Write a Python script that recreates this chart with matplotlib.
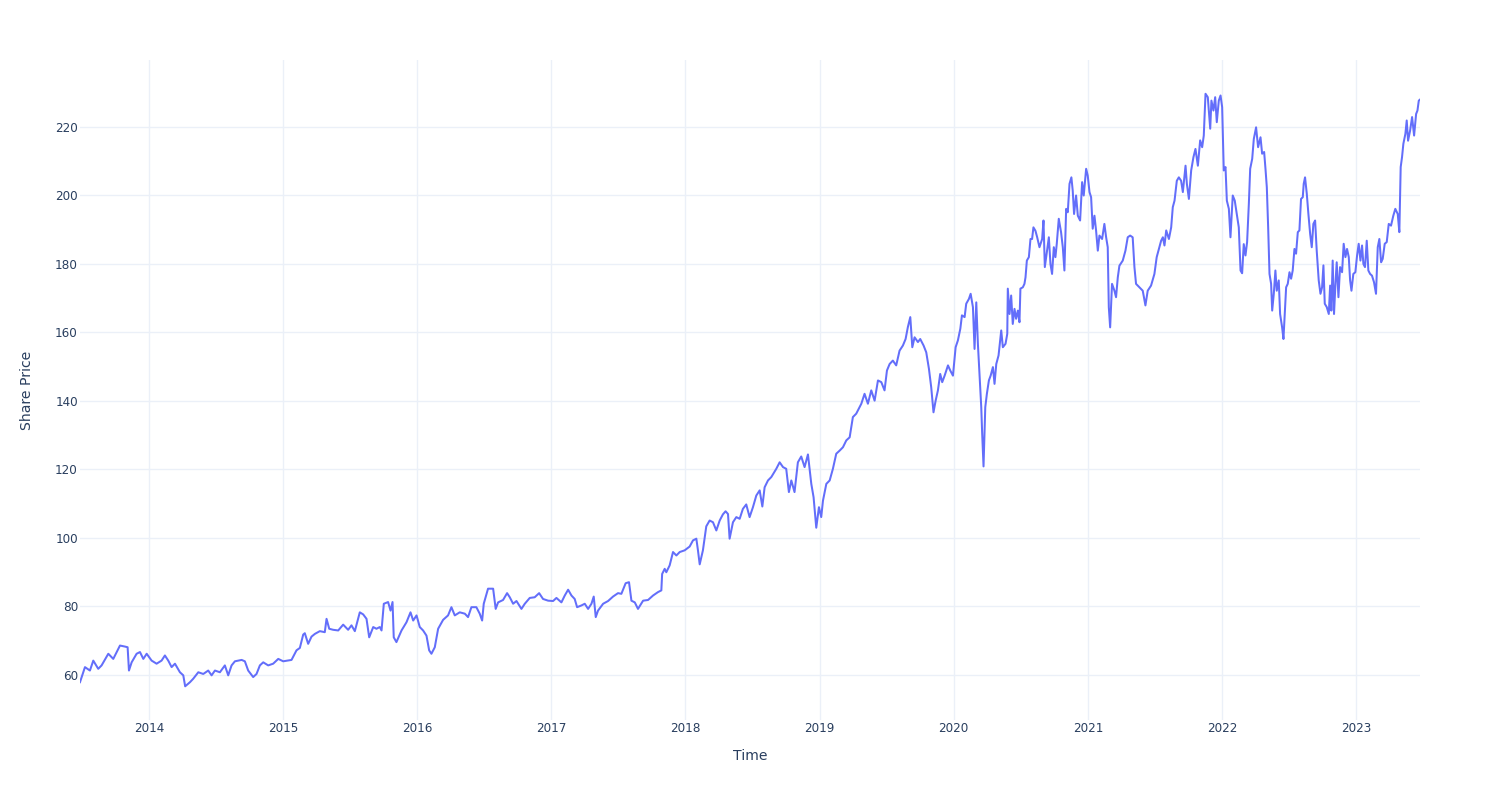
import numpy as np
import pandas as pd
import matplotlib
matplotlib.use("Agg")
import matplotlib.pyplot as plt
import matplotlib.dates as mdates

# ---- data (decimal year, share price) ----
years = [
    2013.486, 2013.523, 2013.560, 2013.585, 2013.622, 2013.647, 2013.697, 2013.734, 2013.784, 2013.821,
    2013.841, 2013.851, 2013.871, 2013.908, 2013.933, 2013.958, 2013.983, 2014.020, 2014.057, 2014.094,
    2014.119, 2014.144, 2014.169, 2014.194, 2014.231, 2014.256, 2014.270, 2014.306, 2014.330, 2014.368,
    2014.405, 2014.442, 2014.467, 2014.492, 2014.529, 2014.566, 2014.591, 2014.616, 2014.641, 2014.691,
    2014.715, 2014.740, 2014.777, 2014.802, 2014.827, 2014.852, 2014.889, 2014.926, 2014.964, 2015.001,
    2015.063, 2015.100, 2015.125, 2015.150, 2015.162, 2015.187, 2015.212, 2015.237, 2015.274, 2015.311,
    2015.324, 2015.344, 2015.373, 2015.411, 2015.448, 2015.485, 2015.510, 2015.535, 2015.572, 2015.597,
    2015.622, 2015.642, 2015.672, 2015.696, 2015.721, 2015.734, 2015.751, 2015.783, 2015.801, 2015.816,
    2015.825, 2015.845, 2015.883, 2015.920, 2015.950, 2015.970, 2015.995, 2016.019, 2016.044, 2016.069,
    2016.089, 2016.106, 2016.131, 2016.156, 2016.193, 2016.230, 2016.255, 2016.280, 2016.317, 2016.355,
    2016.379, 2016.404, 2016.441, 2016.466, 2016.484, 2016.496, 2016.528, 2016.566, 2016.585,
    2016.603, 2016.640, 2016.670, 2016.690, 2016.715, 2016.740, 2016.777, 2016.802, 2016.839, 2016.876,
    2016.909, 2016.938, 2016.976, 2017.013, 2017.038, 2017.075, 2017.100, 2017.125, 2017.150, 2017.174,
    2017.192, 2017.224, 2017.249, 2017.274, 2017.299, 2017.316, 2017.331, 2017.348, 2017.386, 2017.423,
    2017.460, 2017.497, 2017.522, 2017.554, 2017.579, 2017.597, 2017.622, 2017.646, 2017.684, 2017.721,
    2017.758, 2017.795, 2017.820, 2017.826, 2017.845, 2017.857,
    2017.882, 2017.907, 2017.932, 2017.957, 2017.994, 2018.031, 2018.056, 2018.081, 2018.093, 2018.106,
    2018.130, 2018.155, 2018.180, 2018.205, 2018.230, 2018.255, 2018.279, 2018.299, 2018.317, 2018.329,
    2018.354, 2018.379, 2018.404, 2018.428, 2018.453, 2018.478, 2018.503, 2018.528, 2018.553, 2018.573,
    2018.590, 2018.615, 2018.640, 2018.677, 2018.702, 2018.727, 2018.751, 2018.771, 2018.789, 2018.813,
    2018.838, 2018.863, 2018.888, 2018.913, 2018.938, 2018.955, 2018.975,
    2018.995, 2019.012, 2019.025, 2019.050, 2019.075, 2019.099, 2019.124, 2019.149, 2019.174, 2019.199,
    2019.224, 2019.248, 2019.273, 2019.311, 2019.335, 2019.360, 2019.385, 2019.410, 2019.435, 2019.460,
    2019.484, 2019.502, 2019.522, 2019.546, 2019.571, 2019.596, 2019.621, 2019.641, 2019.658, 2019.676,
    2019.691, 2019.708, 2019.733, 2019.750, 2019.775, 2019.795, 2019.815, 2019.832, 2019.849,
    2019.865, 2019.882, 2019.899, 2019.914, 2019.932, 2019.957, 2019.974, 2019.994, 2020.014, 2020.031,
    2020.049, 2020.061, 2020.081, 2020.093, 2020.113, 2020.126, 2020.143, 2020.155, 2020.168, 2020.180,
    2020.193, 2020.205, 2020.212, 2020.222, 2020.235, 2020.247, 2020.262, 2020.275, 2020.292, 2020.304,
    2020.317, 2020.334, 2020.354, 2020.366, 2020.386, 2020.399,
    2020.403, 2020.416, 2020.428, 2020.440, 2020.453, 2020.465, 2020.478, 2020.490, 2020.497, 2020.515,
    2020.527, 2020.535, 2020.545, 2020.560, 2020.572, 2020.584, 2020.594, 2020.609, 2020.622,
    2020.639, 2020.659, 2020.669, 2020.679, 2020.694, 2020.709, 2020.721, 2020.733, 2020.746, 2020.758,
    2020.768, 2020.783, 2020.800, 2020.813, 2020.825, 2020.838, 2020.850, 2020.863, 2020.877, 2020.887,
    2020.897, 2020.912, 2020.925, 2020.942, 2020.957, 2020.969, 2020.987, 2020.999, 2021.012, 2021.024,
    2021.036, 2021.049, 2021.061, 2021.074, 2021.086, 2021.106, 2021.123, 2021.136, 2021.148, 2021.156,
    2021.166, 2021.180, 2021.198, 2021.210, 2021.223, 2021.235, 2021.260, 2021.280, 2021.297, 2021.315,
    2021.334, 2021.347, 2021.359, 2021.384, 2021.409, 2021.429, 2021.446, 2021.471, 2021.496, 2021.513,
    2021.546, 2021.559, 2021.571, 2021.584, 2021.604, 2021.621, 2021.633, 2021.646, 2021.663, 2021.678,
    2021.695, 2021.708, 2021.728, 2021.738, 2021.753, 2021.770, 2021.787, 2021.802, 2021.820, 2021.837,
    2021.852, 2021.864, 2021.877, 2021.894, 2021.912, 2021.921, 2021.936, 2021.949, 2021.961, 2021.976,
    2021.989, 2022.001, 2022.013, 2022.026, 2022.036, 2022.051, 2022.063, 2022.080, 2022.095, 2022.110,
    2022.125, 2022.138, 2022.150, 2022.162, 2022.175, 2022.187, 2022.200, 2022.210, 2022.225, 2022.237,
    2022.254, 2022.269, 2022.287, 2022.299, 2022.314, 2022.324, 2022.334, 2022.344, 2022.354, 2022.366,
    2022.374, 2022.386, 2022.398, 2022.408, 2022.423, 2022.433, 2022.448, 2022.458,
    2022.478, 2022.490, 2022.503, 2022.515, 2022.527, 2022.540, 2022.552, 2022.565, 2022.577, 2022.589,
    2022.602, 2022.609, 2022.619, 2022.632, 2022.644, 2022.657, 2022.669, 2022.681, 2022.694, 2022.706,
    2022.721, 2022.734, 2022.746, 2022.756, 2022.766, 2022.781, 2022.796, 2022.806, 2022.815, 2022.825,
    2022.835, 2022.845, 2022.855, 2022.868, 2022.880, 2022.895, 2022.907, 2022.920, 2022.932, 2022.945,
    2022.955, 2022.965, 2022.979, 2022.994, 2023.007, 2023.019, 2023.032, 2023.044, 2023.054, 2023.066,
    2023.079, 2023.091, 2023.104, 2023.118, 2023.133, 2023.148, 2023.161, 2023.173, 2023.186, 2023.198,
    2023.213, 2023.228, 2023.243, 2023.260, 2023.277, 2023.292, 2023.310, 2023.322, 2023.332, 2023.342,
    2023.352, 2023.367, 2023.377, 2023.387, 2023.402, 2023.417, 2023.432, 2023.447, 2023.457, 2023.467,
    2023.476,
]

prices = [
    57.9, 62.3, 61.3, 64.2, 61.8, 62.8, 66.2, 64.7, 68.6, 68.3,
    68.1, 61.3, 63.7, 66.2, 66.7, 64.7, 66.2, 64.2, 63.3, 64.2,
    65.7, 64.2, 62.3, 63.3, 60.8, 59.9, 56.7, 57.9, 58.9, 60.8,
    60.3, 61.3, 59.9, 61.3, 60.8, 62.8, 59.9, 62.8, 64.0, 64.4,
    64.0, 61.3, 59.4, 60.3, 62.8, 63.7, 62.8, 63.3, 64.7, 64.0,
    64.4, 67.2, 67.9, 71.8, 72.2, 69.1, 71.2, 72.0, 72.8, 72.5,
    76.4, 73.5, 73.2, 73.0, 74.7, 73.2, 74.5, 72.8, 78.3, 77.7,
    76.4, 71.0, 74.0, 73.5, 74.0, 73.0, 80.8, 81.3, 78.8, 81.3,
    71.0, 69.6, 73.0, 75.4, 78.3, 75.9, 77.4, 74.0, 73.0, 71.5,
    67.2, 66.2, 68.1, 73.5, 76.1, 77.4, 79.8, 77.4, 78.3, 77.9,
    76.9, 79.8, 79.8, 77.9, 75.9, 80.8, 85.2, 85.2, 79.3,
    81.2, 81.9, 83.9, 82.7, 80.8, 81.6, 79.3, 80.8, 82.5, 82.7,
    83.9, 82.2, 81.7, 81.6, 82.5, 81.2, 83.2, 84.9, 83.2, 82.2,
    79.8, 80.3, 80.8, 79.3, 80.8, 82.9, 76.9, 78.8, 80.8, 81.6,
    82.9, 83.9, 83.7, 86.8, 87.1, 81.7, 81.2, 79.3, 81.7, 81.9,
    83.2, 84.2, 84.7, 89.5, 91.0, 90.0,
    92.0, 95.9, 94.9, 95.9, 96.4, 97.5, 99.3, 99.8, 96.4, 92.3,
    96.4, 103.4, 105.1, 104.6, 102.2, 105.1, 106.9, 107.8, 107.0, 99.8,
    104.6, 106.1, 105.6, 108.5, 109.8, 106.1, 109.0, 112.4, 113.9, 109.2,
    114.8, 116.8, 117.8, 120.2, 122.1, 120.7, 120.2, 113.4, 116.8, 113.4,
    122.1, 123.8, 120.7, 124.4, 115.8, 111.9, 103.0,
    109.0, 106.1, 110.9, 115.8, 116.8, 120.2, 124.6, 125.5, 126.5, 128.5,
    129.4, 135.3, 136.3, 139.2, 142.1, 139.2, 143.1, 140.1, 146.0, 145.5,
    143.1, 148.9, 150.8, 151.8, 150.4, 154.7, 156.2, 158.1, 161.6, 164.5,
    155.7, 158.6, 157.2, 158.1, 156.2, 154.2, 149.4, 144.0, 136.7,
    140.1, 143.1, 147.9, 145.5, 147.4, 150.4, 148.9, 147.4, 155.7, 157.7,
    161.1, 165.0, 164.5, 168.4, 169.8, 171.3, 167.4, 155.2, 168.8, 156.7,
    147.0, 138.2, 130.4, 120.9, 138.2, 142.1, 146.0, 147.4, 149.9, 145.0,
    150.8, 153.3, 160.6, 155.7, 156.7, 159.6,
    172.8, 165.4, 170.8, 162.5, 166.9, 164.0, 166.4, 163.0, 172.8, 173.2,
    174.2, 176.1, 181.0, 182.0, 187.3, 187.3, 190.7, 189.7, 187.8,
    184.9, 187.3, 192.7, 179.1, 183.5, 187.8, 180.0, 177.1, 184.9, 182.0,
    185.9, 193.2, 189.3, 184.9, 178.1, 196.1, 195.1, 203.4, 205.3, 201.4,
    194.6, 200.0, 194.1, 192.7, 203.9, 200.0, 207.8, 205.8, 201.0, 199.5,
    190.3, 194.1, 189.8, 183.9, 188.3, 187.3, 191.7, 187.8, 184.9, 167.4,
    161.5, 174.2, 172.2, 170.3, 176.1, 179.5, 181.0, 183.9, 187.8, 188.3,
    187.8, 179.1, 174.2, 173.2, 172.2, 167.9, 172.2, 173.7, 177.1, 182.0,
    186.8, 187.8, 185.4, 189.8, 187.3, 190.7, 196.6, 198.5, 204.3, 205.3,
    204.3, 201.0, 208.7, 203.4, 199.0, 207.3, 211.2, 213.6, 208.7, 216.1,
    214.1, 217.5, 229.7, 228.7, 219.5, 227.7, 224.8, 228.7, 221.4, 227.7,
    229.2, 225.8, 207.3, 208.3, 198.5, 196.1, 187.8, 200.0, 198.5, 194.6,
    190.7, 178.1, 177.3, 185.8, 182.5, 186.4, 197.6, 207.8, 210.7, 216.5,
    219.9, 214.1, 217.0, 212.2, 212.7, 207.8, 202.4, 190.7, 177.1, 174.2,
    166.4, 171.3, 178.1, 172.2, 175.2, 165.4, 161.5, 158.1,
    173.2, 174.2, 177.6, 175.7, 178.1, 184.4, 183.0, 189.3, 189.8, 199.0,
    199.5, 203.4, 205.3, 200.5, 194.6, 188.8, 184.9, 191.7, 192.7, 183.9,
    175.2, 171.3, 173.2, 179.6, 168.4, 167.4, 165.4, 173.7, 166.4, 181.0,
    165.4, 173.7, 180.5, 170.3, 179.1, 177.6, 185.9, 182.0, 184.4, 182.0,
    175.2, 172.2, 177.1, 177.6, 182.5, 185.9, 181.0, 185.4, 180.0, 179.1,
    186.8, 178.1, 177.1, 176.6, 174.7, 171.3, 184.9, 187.3, 180.5, 181.5,
    185.9, 186.4, 191.7, 191.2, 194.1, 196.1, 194.6, 189.3, 208.3, 211.2,
    215.1, 218.0, 221.9, 216.0, 218.9, 222.9, 217.5, 223.8, 224.8, 227.7,
    228.0,
]

y_ticks = [60, 80, 100, 120, 140, 160, 180, 200, 220]
x_title = "Time"
y_title = "Share Price"

# ---- styling ----
LINE = "#636EFA"
TEXT = "#2a3f5f"
GRID = "#EBF0F8"

plt.rcParams["font.family"] = ["DejaVu Sans"]

yrs = np.array(years)
dates = pd.Timestamp("2014-01-01") + pd.to_timedelta((yrs - 2014.0) * 365.25, unit="D")

fig = plt.figure(figsize=(15, 8), dpi=100)
fig.patch.set_facecolor("white")
ax = fig.add_axes([80 / 1500, 80 / 800, 1340 / 1500, 660 / 800])
ax.set_facecolor("white")

ax.plot(dates, prices, color=LINE, linewidth=1.45, solid_joinstyle="round", zorder=3)

ax.set_xlim(dates[0], dates[-1])
ax.set_ylim(46.86, 239.56)

ax.xaxis.set_major_locator(mdates.YearLocator())
ax.xaxis.set_major_formatter(mdates.DateFormatter("%Y"))
ax.set_yticks(y_ticks)

ax.grid(True, color=GRID, linewidth=1.0, zorder=0)
ax.set_axisbelow(True)
for s in ax.spines.values():
    s.set_visible(False)

ax.tick_params(axis="both", length=0, colors=TEXT, labelsize=8.64)
ax.tick_params(axis="x", pad=1.2)
ax.tick_params(axis="y", pad=1.5)

fig.text(750 / 1500, 1 - 756 / 800, x_title, ha="center", va="center", color=TEXT, fontsize=10.08)
fig.text(27 / 1500, 1 - 390 / 800, y_title, ha="center", va="center", rotation=90, color=TEXT, fontsize=10.08)

fig.savefig("out.png", dpi=100, facecolor="white")
